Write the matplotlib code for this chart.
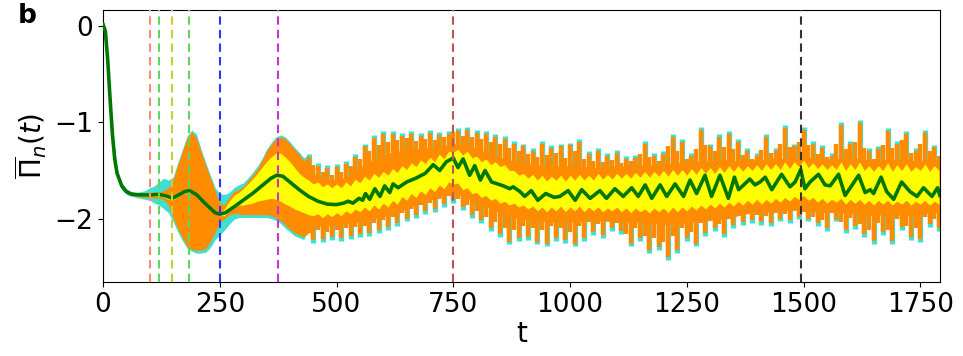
import numpy as np
import matplotlib
matplotlib.use("Agg")
import matplotlib.pyplot as plt

# ---- data ----
t_band = np.arange(0, 1800, 10)

orange_hi = [0.05,-0.28,-1.06,-1.49,-1.64,-1.70,-1.73,-1.74,-1.735,-1.73,
 -1.73,-1.72,-1.72,-1.71,-1.68,-1.60,-1.44,-1.30,-1.16,-1.10,
 -1.16,-1.31,-1.45,-1.58,-1.71,-1.84,-1.86,-1.78,-1.72,-1.70,
 -1.67,-1.61,-1.55,-1.49,-1.40,-1.30,-1.23,-1.17,-1.15,-1.17,
 -1.22,-1.28,-1.33,-1.40,-1.36,-1.44,-1.45,-1.52,-1.47,-1.55,
 -1.46,-1.52,-1.43,-1.45,-1.36,-1.38,-1.25,-1.30,-1.16,-1.24,
 -1.12,-1.20,-1.12,-1.18,-1.14,-1.16,-1.12,-1.19,-1.14,-1.17,
 -1.11,-1.18,-1.13,-1.15,-1.12,-1.10,-1.09,-1.14,-1.08,-1.15,
 -1.11,-1.17,-1.12,-1.20,-1.15,-1.22,-1.17,-1.27,-1.22,-1.30,
 -1.25,-1.33,-1.30,-1.36,-1.22,-1.34,-1.27,-1.32,-1.25,-1.37,
 -1.24,-1.30,-1.20,-1.38,-1.33,-1.40,-1.30,-1.41,-1.35,-1.39,
 -1.32,-1.42,-1.38,-1.40,-1.37,-1.33,-1.22,-1.36,-1.35,-1.40,
 -1.33,-1.25,-1.15,-1.30,-1.20,-1.38,-1.35,-1.28,-1.08,-1.24,
 -1.25,-1.30,-1.15,-1.26,-1.12,-1.28,-1.20,-1.34,-1.30,-1.38,
 -1.35,-1.29,-1.15,-1.32,-1.30,-1.22,-1.06,-1.26,-1.25,-1.20,
 -1.08,-1.24,-1.22,-1.33,-1.27,-1.36,-1.35,-1.22,-1.03,-1.28,
 -1.22,-1.20,-1.01,-1.27,-1.30,-1.38,-1.28,-1.24,-1.09,-1.27,
 -1.22,-1.18,-1.12,-1.32,-1.30,-1.22,-1.11,-1.30,-1.26,-1.35]

orange_lo = [-0.03,-0.42,-1.18,-1.57,-1.69,-1.74,-1.76,-1.77,-1.775,-1.78,
 -1.78,-1.79,-1.79,-1.80,-1.86,-1.99,-2.11,-2.20,-2.29,-2.32,
 -2.33,-2.33,-2.31,-2.24,-2.14,-2.04,-2.00,-1.96,-1.95,-1.95,
 -1.96,-1.96,-1.96,-1.96,-1.96,-1.96,-1.97,-1.99,-2.02,-2.07,
 -2.11,-2.15,-2.17,-2.19,-2.15,-2.22,-2.12,-2.21,-2.14,-2.19,
 -2.12,-2.20,-2.10,-2.18,-2.09,-2.16,-2.08,-2.15,-2.05,-2.12,
 -2.02,-2.09,-1.98,-2.05,-1.94,-2.00,-1.90,-1.96,-1.86,-1.92,
 -1.84,-1.90,-1.80,-1.85,-1.77,-1.81,-1.80,-1.88,-1.86,-1.96,
 -1.92,-2.02,-1.98,-2.10,-2.04,-2.16,-2.10,-2.24,-2.12,-2.20,
 -2.08,-2.19,-2.10,-2.24,-2.12,-2.26,-2.08,-2.20,-2.10,-2.22,
 -2.14,-2.26,-2.08,-2.20,-2.04,-2.14,-2.06,-2.17,-2.03,-2.10,
 -2.05,-2.13,-2.16,-2.26,-2.10,-2.20,-2.18,-2.33,-2.20,-2.30,
 -2.24,-2.40,-2.18,-2.33,-2.10,-2.20,-2.14,-2.26,-2.05,-2.15,
 -2.02,-2.10,-2.06,-2.16,-2.00,-2.07,-1.96,-2.04,-1.95,-2.02,
 -1.96,-2.04,-1.97,-2.05,-1.94,-2.00,-1.95,-2.02,-1.92,-1.98,
 -1.93,-2.00,-1.98,-2.05,-2.02,-2.10,-1.94,-2.00,-2.04,-2.12,
 -1.99,-2.08,-2.06,-2.16,-2.12,-2.23,-2.05,-2.14,-2.12,-2.23,
 -2.00,-2.09,-2.08,-2.19,-2.10,-2.21,-1.98,-2.06,-2.00,-2.10]

turq_hi = [0.06,-0.27,-1.05,-1.48,-1.63,-1.69,-1.72,-1.73,-1.72,-1.71,
 -1.68,-1.66,-1.62,-1.58,-1.60,-1.57,-1.42,-1.28,-1.14,-1.08,
 -1.12,-1.28,-1.42,-1.55,-1.68,-1.74,-1.75,-1.73,-1.68,-1.65,
 -1.63,-1.58,-1.52,-1.46,-1.38,-1.28,-1.21,-1.15,-1.13,-1.15,
 -1.20,-1.26,-1.31,-1.37,-1.33,-1.57,-1.42,-1.61,-1.44,-1.65,
 -1.43,-1.64,-1.40,-1.59,-1.33,-1.52,-1.22,-1.46,-1.13,-1.41,
 -1.09,-1.37,-1.09,-1.34,-1.11,-1.30,-1.09,-1.29,-1.11,-1.27,
 -1.08,-1.27,-1.10,-1.26,-1.09,-1.24,-1.06,-1.24,-1.05,-1.27,
 -1.08,-1.31,-1.09,-1.34,-1.12,-1.39,-1.14,-1.42,-1.19,-1.45,
 -1.22,-1.47,-1.27,-1.49,-1.19,-1.51,-1.24,-1.49,-1.22,-1.52,
 -1.21,-1.49,-1.17,-1.51,-1.30,-1.49,-1.27,-1.52,-1.32,-1.50,
 -1.29,-1.51,-1.35,-1.49,-1.34,-1.48,-1.19,-1.49,-1.32,-1.47,
 -1.30,-1.46,-1.12,-1.45,-1.17,-1.47,-1.32,-1.44,-1.05,-1.43,
 -1.22,-1.45,-1.12,-1.42,-1.09,-1.44,-1.17,-1.45,-1.27,-1.43,
 -1.32,-1.44,-1.12,-1.42,-1.27,-1.41,-1.03,-1.43,-1.22,-1.39,
 -1.05,-1.41,-1.19,-1.43,-1.24,-1.45,-1.32,-1.42,-1.00,-1.44,
 -1.19,-1.43,-0.98,-1.45,-1.27,-1.46,-1.25,-1.44,-1.06,-1.45,
 -1.19,-1.43,-1.09,-1.45,-1.27,-1.44,-1.08,-1.46,-1.23,-1.44]

turq_lo = [-0.04,-0.43,-1.19,-1.58,-1.70,-1.75,-1.77,-1.78,-1.79,-1.80,
 -1.81,-1.84,-1.86,-1.90,-1.94,-2.03,-2.14,-2.23,-2.31,-2.34,
 -2.36,-2.36,-2.35,-2.30,-2.22,-2.17,-2.12,-2.06,-2.01,-1.99,
 -1.99,-1.99,-1.99,-1.99,-1.99,-1.99,-2.00,-2.02,-2.05,-2.10,
 -2.14,-2.18,-2.20,-2.22,-2.10,-2.25,-2.08,-2.24,-2.06,-2.22,
 -2.05,-2.23,-2.04,-2.21,-2.04,-2.19,-2.03,-2.18,-1.99,-2.15,
 -1.97,-2.12,-1.94,-2.08,-1.90,-2.03,-1.86,-1.99,-1.82,-1.95,
 -1.78,-1.93,-1.76,-1.88,-1.73,-1.84,-1.72,-1.91,-1.76,-1.99,
 -1.80,-2.05,-1.84,-2.13,-1.88,-2.19,-1.92,-2.27,-1.95,-2.23,
 -1.97,-2.22,-1.98,-2.27,-1.99,-2.29,-2.00,-2.23,-1.98,-2.25,
 -1.99,-2.29,-2.00,-2.23,-1.98,-2.17,-1.97,-2.20,-1.99,-2.13,
 -1.98,-2.16,-2.00,-2.29,-1.99,-2.23,-2.01,-2.36,-2.00,-2.33,
 -2.02,-2.43,-2.01,-2.36,-2.00,-2.23,-1.99,-2.29,-1.98,-2.18,
 -1.97,-2.13,-1.96,-2.19,-1.95,-2.10,-1.92,-2.07,-1.90,-2.05,
 -1.89,-2.07,-1.88,-2.08,-1.89,-2.03,-1.88,-2.05,-1.87,-2.01,
 -1.88,-2.03,-1.89,-2.08,-1.90,-2.13,-1.89,-2.03,-1.90,-2.15,
 -1.91,-2.11,-1.92,-2.19,-1.93,-2.26,-1.92,-2.17,-1.93,-2.26,
 -1.92,-2.12,-1.93,-2.22,-1.92,-2.24,-1.91,-2.09,-1.90,-2.13]

core_t = [440,460,480,500,520,540,560,580,600,620,
 640,660,680,700,720,740,760,780,800,820,
 840,860,880,900,920,940,960,980,1000,1020,
 1040,1060,1080,1100,1120,1140,1160,1180,1200,1220,
 1240,1260,1280,1300,1320,1340,1360,1380,1400,1420,
 1440,1460,1480,1500,1520,1540,1560,1580,1600,1620,
 1640,1660,1680,1700,1720,1740,1760,1780,1790]
core_hi = [-1.50,-1.56,-1.60,-1.60,-1.57,-1.50,-1.44,-1.38,-1.34,-1.31,
 -1.29,-1.28,-1.27,-1.26,-1.25,-1.23,-1.22,-1.24,-1.27,-1.31,
 -1.35,-1.38,-1.40,-1.42,-1.44,-1.45,-1.45,-1.46,-1.45,-1.46,
 -1.46,-1.47,-1.46,-1.46,-1.45,-1.45,-1.44,-1.44,-1.43,-1.42,
 -1.42,-1.41,-1.40,-1.40,-1.39,-1.39,-1.40,-1.39,-1.39,-1.38,
 -1.37,-1.38,-1.36,-1.35,-1.37,-1.38,-1.38,-1.37,-1.38,-1.37,
 -1.39,-1.39,-1.38,-1.39,-1.38,-1.40,-1.39,-1.40,-1.39]
core_lo = [-2.08,-2.08,-2.07,-2.06,-2.05,-2.04,-2.03,-2.00,-1.98,-1.96,
 -1.92,-1.88,-1.84,-1.81,-1.78,-1.75,-1.75,-1.79,-1.84,-1.88,
 -1.92,-1.96,-1.99,-2.01,-2.02,-2.03,-2.04,-2.03,-2.03,-2.04,
 -2.03,-2.02,-2.03,-2.03,-2.04,-2.04,-2.05,-2.05,-2.06,-2.06,
 -2.05,-2.04,-2.03,-2.02,-2.01,-2.00,-1.97,-1.95,-1.94,-1.93,
 -1.93,-1.92,-1.91,-1.92,-1.93,-1.94,-1.93,-1.94,-1.95,-1.96,
 -1.97,-1.96,-1.97,-1.96,-1.97,-1.96,-1.95,-1.94,-1.94]

yellow_hi = [0.03,-0.32,-1.10,-1.51,-1.65,-1.71,-1.74,-1.745,-1.74,-1.74,
 -1.74,-1.74,-1.735,-1.745,-1.77,-1.775,-1.745,-1.715,-1.70,-1.705,
 -1.735,-1.78,-1.835,-1.88,-1.925,-1.94,-1.90,-1.82,-1.76,-1.73,
 -1.69,-1.64,-1.59,-1.53,-1.47,-1.41,-1.36,-1.32,-1.32,-1.36,
 -1.41,-1.47,-1.53,-1.57,-1.60,-1.64,-1.62,-1.67,-1.64,-1.68,
 -1.64,-1.68,-1.62,-1.66,-1.59,-1.63,-1.56,-1.60,-1.53,-1.57,
 -1.51,-1.55,-1.48,-1.52,-1.45,-1.49,-1.42,-1.46,-1.39,-1.43,
 -1.36,-1.41,-1.33,-1.38,-1.30,-1.31,-1.28,-1.34,-1.30,-1.37,
 -1.35,-1.41,-1.38,-1.44,-1.41,-1.46,-1.44,-1.50,-1.50,-1.55,
 -1.53,-1.58,-1.54,-1.60,-1.55,-1.61,-1.56,-1.60,-1.55,-1.61,
 -1.55,-1.60,-1.54,-1.60,-1.55,-1.60,-1.53,-1.59,-1.54,-1.59,
 -1.53,-1.58,-1.53,-1.58,-1.52,-1.57,-1.51,-1.57,-1.51,-1.56,
 -1.50,-1.56,-1.49,-1.55,-1.49,-1.55,-1.48,-1.54,-1.47,-1.53,
 -1.47,-1.53,-1.46,-1.52,-1.45,-1.51,-1.45,-1.51,-1.45,-1.50,
 -1.44,-1.50,-1.43,-1.49,-1.43,-1.49,-1.41,-1.48,-1.41,-1.46,
 -1.39,-1.47,-1.42,-1.48,-1.43,-1.49,-1.44,-1.49,-1.41,-1.50,
 -1.43,-1.49,-1.41,-1.50,-1.45,-1.51,-1.45,-1.50,-1.42,-1.51,
 -1.44,-1.50,-1.43,-1.51,-1.46,-1.50,-1.43,-1.51,-1.45,-1.50]

yellow_lo = [-0.01,-0.38,-1.14,-1.55,-1.67,-1.73,-1.75,-1.76,-1.77,-1.77,
 -1.77,-1.77,-1.765,-1.78,-1.80,-1.805,-1.775,-1.745,-1.73,-1.735,
 -1.765,-1.81,-1.865,-1.91,-1.955,-1.97,-1.97,-1.92,-1.87,-1.86,
 -1.86,-1.85,-1.84,-1.82,-1.81,-1.80,-1.79,-1.80,-1.82,-1.85,
 -1.87,-1.90,-1.92,-1.94,-1.96,-1.97,-1.95,-1.99,-1.95,-1.98,
 -1.94,-1.97,-1.92,-1.95,-1.90,-1.93,-1.88,-1.92,-1.86,-1.90,
 -1.84,-1.88,-1.81,-1.85,-1.77,-1.81,-1.74,-1.78,-1.71,-1.75,
 -1.68,-1.72,-1.65,-1.69,-1.62,-1.64,-1.63,-1.70,-1.68,-1.74,
 -1.73,-1.78,-1.76,-1.81,-1.79,-1.84,-1.82,-1.86,-1.84,-1.88,
 -1.86,-1.90,-1.87,-1.92,-1.88,-1.93,-1.88,-1.92,-1.87,-1.93,
 -1.88,-1.92,-1.87,-1.93,-1.88,-1.92,-1.88,-1.93,-1.89,-1.92,
 -1.88,-1.93,-1.89,-1.94,-1.89,-1.93,-1.90,-1.94,-1.89,-1.93,
 -1.89,-1.94,-1.88,-1.93,-1.88,-1.92,-1.87,-1.91,-1.86,-1.90,
 -1.85,-1.89,-1.84,-1.88,-1.83,-1.87,-1.82,-1.86,-1.81,-1.85,
 -1.80,-1.85,-1.80,-1.84,-1.79,-1.83,-1.78,-1.82,-1.77,-1.80,
 -1.76,-1.81,-1.78,-1.83,-1.79,-1.84,-1.80,-1.83,-1.79,-1.85,
 -1.80,-1.84,-1.80,-1.85,-1.81,-1.86,-1.81,-1.85,-1.81,-1.86,
 -1.82,-1.85,-1.81,-1.86,-1.82,-1.85,-1.81,-1.86,-1.82,-1.85]

mean_t = [0,5,10,15,20,25,30,40,50,60,80,100,120,135,148,160,175,185,200,220,
 240,250,262,280,300,320,340,360,372,385,400,420,440,460,480,500,515,525,535,548,
 556,562,571,582,593,603,614,621,632,650,670,690,707,721,735,750,760,771,785,796,
 808,818,832,845,857,871,878,893,903,917,931,948,966,978,996,1011,1025,1043,1064,1078,
 1096,1114,1132,1146,1161,1175,1193,1207,1225,1243,1257,1271,1289,1303,1321,1339,1352,1361,1385,1396,
 1407,1418,1432,1453,1471,1482,1494,1503,1514,1532,1546,1557,1575,1589,1600,1618,1632,1643,1650,1666,
 1678,1693,1710,1728,1743,1757,1775,1787,1792]
mean_y = [0.02,-0.05,-0.35,-0.75,-1.12,-1.38,-1.53,-1.66,-1.72,-1.745,-1.755,-1.755,-1.75,-1.765,-1.79,-1.76,-1.72,-1.71,-1.75,-1.85,
 -1.94,-1.955,-1.94,-1.88,-1.81,-1.74,-1.66,-1.58,-1.55,-1.56,-1.62,-1.70,-1.77,-1.82,-1.85,-1.855,-1.84,-1.82,-1.84,-1.79,
 -1.81,-1.74,-1.80,-1.69,-1.77,-1.66,-1.73,-1.64,-1.68,-1.62,-1.58,-1.53,-1.44,-1.50,-1.41,-1.37,-1.47,-1.38,-1.55,-1.45,
 -1.60,-1.50,-1.62,-1.64,-1.66,-1.69,-1.67,-1.72,-1.77,-1.71,-1.81,-1.74,-1.78,-1.77,-1.71,-1.81,-1.70,-1.79,-1.71,-1.79,
 -1.69,-1.77,-1.68,-1.77,-1.65,-1.79,-1.65,-1.77,-1.64,-1.77,-1.60,-1.74,-1.55,-1.77,-1.55,-1.79,-1.57,-1.70,-1.59,-1.65,
 -1.62,-1.57,-1.70,-1.54,-1.67,-1.62,-1.49,-1.69,-1.62,-1.54,-1.65,-1.66,-1.54,-1.76,-1.68,-1.55,-1.73,-1.70,-1.74,-1.57,
 -1.72,-1.80,-1.62,-1.72,-1.77,-1.68,-1.77,-1.68,-1.76]

marker_t = [100, 120, 148, 185, 250, 375, 750, 1495]
marker_colors = ["#ff8a73", "#5fd75f", "#cccc33", "#5fd75f", "#3333ff", "#cc33cc", "#bb5555", "#333333"]

x_ticks = [0, 250, 500, 750, 1000, 1250, 1500, 1750]
y_ticks = [0, -1, -2]

# ---- figure ----
fig = plt.figure(figsize=(9.63, 3.56), dpi=100)
ax = fig.add_axes([0.107, 0.208, 0.869, 0.764])

TURQ, ORANGE, YELLOW = "#40e0d0", "#ff8c00", "#ffff00"
smooth = t_band <= 440
spiky = t_band >= 440

ax.fill_between(t_band, turq_lo, turq_hi, where=smooth, color=TURQ, lw=0, zorder=1)
ax.vlines(t_band[spiky], np.array(turq_lo)[spiky], np.array(turq_hi)[spiky],
          color=TURQ, lw=3.8, zorder=1)
ax.fill_between(t_band, orange_lo, orange_hi, where=smooth, color=ORANGE, lw=0, zorder=2)
ax.fill_between(core_t, core_lo, core_hi, color=ORANGE, lw=0, zorder=2)
ax.vlines(t_band[spiky], np.array(orange_lo)[spiky], np.array(orange_hi)[spiky],
          color=ORANGE, lw=3.2, zorder=2)
ax.fill_between(t_band, yellow_lo, yellow_hi, color=YELLOW, lw=0, zorder=3)
ax.plot(mean_t, mean_y, color="#007800", lw=2.6, zorder=5)

for xv, c in zip(marker_t, marker_colors):
    ax.axvline(xv, color=c, ls=(0, (4, 2.5)), lw=1.5, zorder=6)

ax.set_xlim(0, 1792)
ax.set_ylim(-2.66, 0.17)
ax.set_xticks(x_ticks)
ax.set_yticks(y_ticks)
ax.set_yticklabels(["0", "\u22121", "\u22122"])
ax.tick_params(labelsize=19)
ax.set_xlabel("t", fontsize=20, labelpad=2)
ax.set_ylabel(r"$\overline{\Pi}_n(t)$", fontsize=20, labelpad=4)
fig.text(0.018, 0.935, "b", fontsize=19, fontweight="bold")

fig.savefig("out.png", dpi=100)
